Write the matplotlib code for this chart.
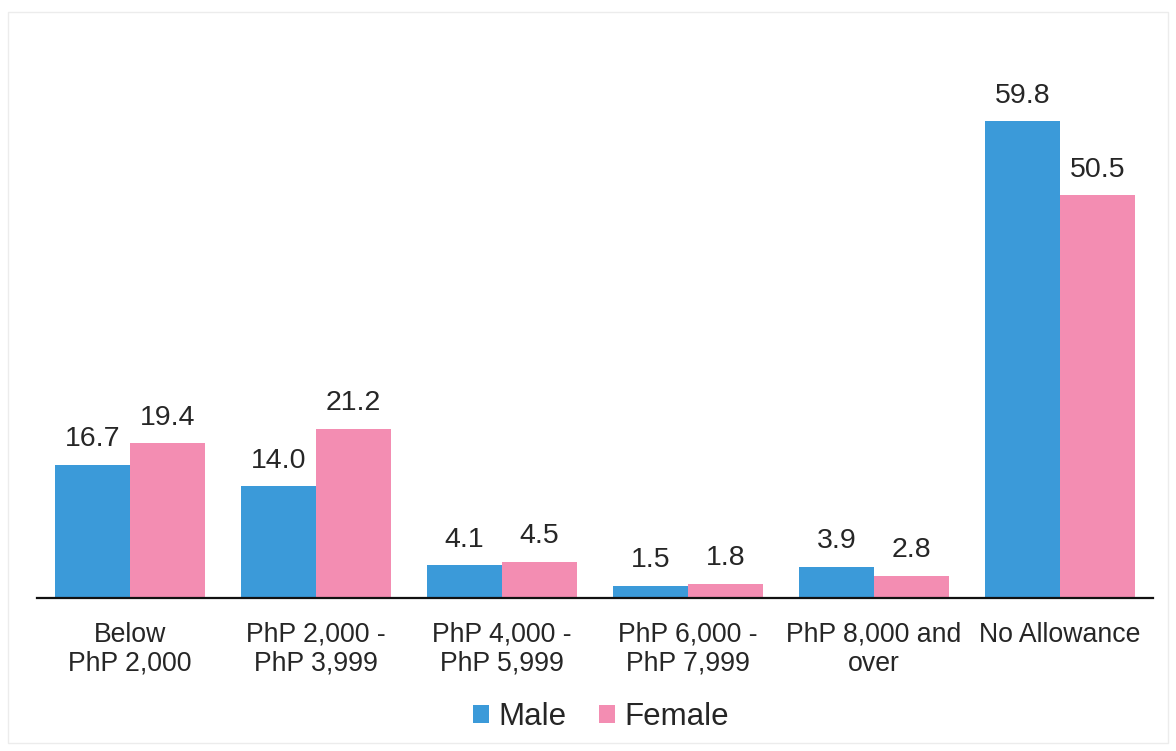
import matplotlib.pyplot as plt
import numpy as np
from matplotlib.patches import Rectangle

categories = ["Below\nPhP 2,000", "PhP 2,000 -\nPhP 3,999", "PhP 4,000 -\nPhP 5,999",
              "PhP 6,000 -\nPhP 7,999", "PhP 8,000 and\nover", "No Allowance"]
male = [16.7, 14.0, 4.1, 1.5, 3.9, 59.8]
female = [19.4, 21.2, 4.5, 1.8, 2.8, 50.5]

BLUE = "#3b9ad9"
PINK = "#f38db2"
TEXT = "#262626"

plt.rcParams["font.family"] = ["Liberation Sans", "DejaVu Sans"]

fig = plt.figure(figsize=(11.76, 7.51), dpi=100)
ax = fig.add_axes([37 / 1176, 153 / 751, 1116 / 1176, 0.69])

x = np.arange(len(categories))
w = 0.405
ax.bar(x - w / 2, male, w, color=BLUE, label="Male")
ax.bar(x + w / 2, female, w, color=PINK, label="Female")

for xi, m, f in zip(x, male, female):
    ax.text(xi - w / 2, m + 1.6, f"{m:.1f}", ha="center", va="bottom", fontsize=20.5, color=TEXT)
    ax.text(xi + w / 2, f + 1.6, f"{f:.1f}", ha="center", va="bottom", fontsize=20.5, color=TEXT)

ax.set_xlim(-0.5, 5.5)
ax.set_ylim(0, 65)
ax.set_yticks([])
ax.set_xticks(x)
ax.set_xticklabels(categories, fontsize=19.2, color=TEXT, linespacing=1.15)
ax.tick_params(axis="x", length=0, pad=17)
for side in ["top", "right", "left"]:
    ax.spines[side].set_visible(False)
ax.spines["bottom"].set_linewidth(1.6)
ax.spines["bottom"].set_color("#111111")

leg = fig.legend(loc="center", bbox_to_anchor=(0.511, 34 / 751), ncol=2, frameon=False,
                 fontsize=22.5, handlelength=0.52, handleheight=0.52, handletextpad=0.3,
                 columnspacing=1.05)
for t in leg.get_texts():
    t.set_color(TEXT)

# faint scan border
fig.patches.append(Rectangle((8 / 1176, 8 / 751), 1160 / 1176, 731 / 751,
                             transform=fig.transFigure, fill=False,
                             edgecolor="#ececec", linewidth=1))

fig.savefig("out.png", dpi=100)
